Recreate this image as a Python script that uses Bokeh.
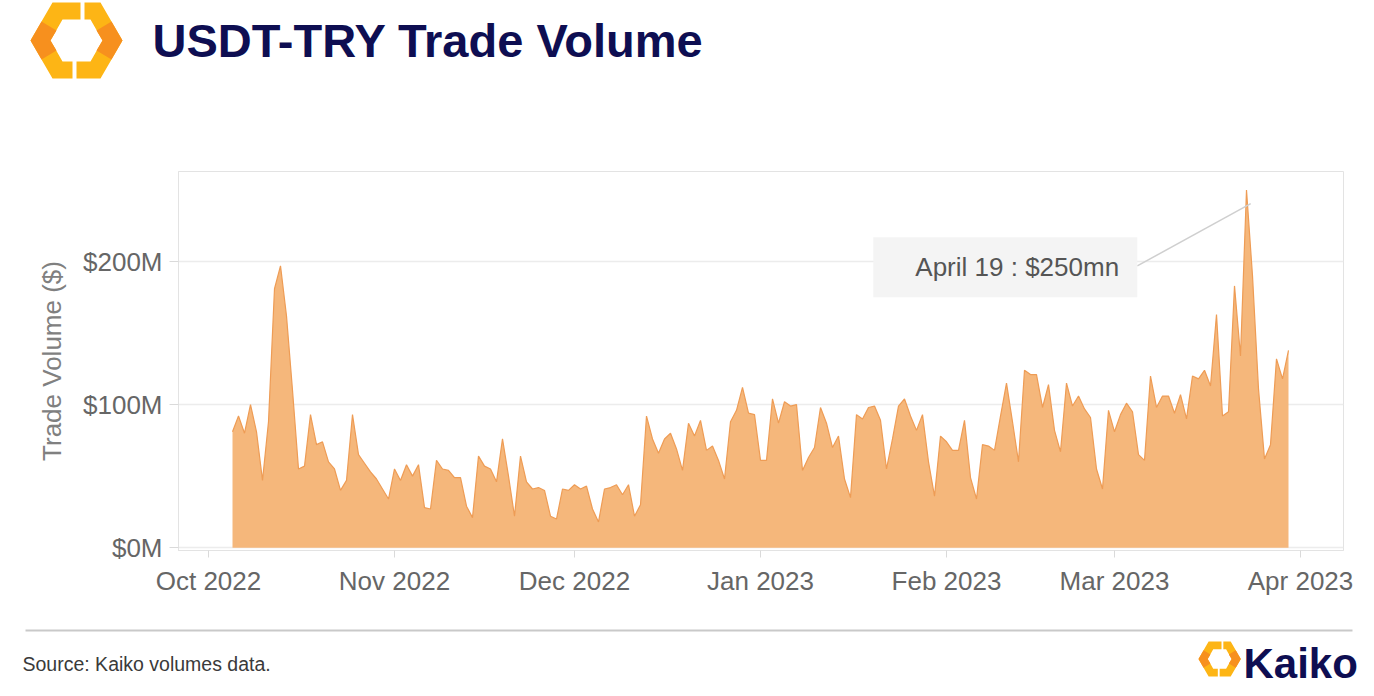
import numpy as np
import pandas as pd
from bokeh.plotting import figure
from bokeh.layouts import column
from bokeh.models import (Range1d, FixedTicker, PrintfTickFormatter, DatetimeTickFormatter,
                          Label, BoxAnnotation, ColumnDataSource)
from bokeh.core.properties import value
from bokeh.embed import file_html
from bokeh.resources import INLINE

# ---------------- data ----------------
title_text = "USDT-TRY Trade Volume"
y_axis_title = "Trade Volume ($)"
source_text = "Source: Kaiko volumes data."
annotation_text = "April 19 : $250mn"
brand = "Kaiko"
start_date = "2022-10-05"
# daily USDT-TRY trade volume, $ millions
volume_musd = [
    81, 92, 80, 100, 81, 47, 88, 181, 197, 162, 110, 55, 57, 93, 72, 74, 60, 55, 40, 47,
    93, 65, 59, 53, 48, 41, 34, 55, 47, 58, 50, 58, 28, 27, 61, 55, 54, 49, 49, 29,
    21, 64, 57, 55, 46, 76, 50, 22, 64, 46, 41, 42, 40, 22, 20, 41, 40, 44, 41, 43,
    27, 18, 41, 42, 44, 37, 44, 22, 30, 92, 76, 66, 76, 80, 69, 54, 87, 78, 89, 68,
    71, 61, 48, 88, 96, 112, 94, 93, 61, 61, 104, 87, 102, 99, 100, 54, 63, 70, 98, 87,
    70, 78, 48, 35, 93, 90, 98, 99, 89, 55, 76, 99, 104, 92, 82, 93, 60, 36, 78, 74,
    68, 68, 89, 49, 34, 72, 71, 68, 92, 115, 88, 60, 124, 121, 121, 98, 114, 82, 67, 115,
    99, 106, 97, 91, 55, 41, 96, 81, 93, 101, 95, 65, 61, 120, 98, 106, 106, 94, 107, 90,
    120, 118, 124, 113, 163, 92, 95, 183, 134, 250, 190, 111, 62, 72, 132, 118, 138,
]
month_ticks = ["2022-10-01", "2022-11-01", "2022-12-01", "2023-01-01",
               "2023-02-01", "2023-03-01", "2023-04-01"]
y_ticks = [0, 100, 200]

dates = pd.date_range(start_date, periods=len(volume_musd), freq="D")
src = ColumnDataSource(dict(date=dates, vol=volume_musd))

EPOCH = np.datetime64("1970-01-01T00:00:00")


def ms(d):
    t = np.datetime64(d) if isinstance(d, str) else d
    return float((np.datetime64(t, "ms") - EPOCH) / np.timedelta64(1, "ms"))


def day_ms(day_offset):
    return ms("2022-10-01") + day_offset * 86400000.0


W = 1374
FONT = "Liberation Sans"
NAVY = "#0E0E52"

# ---------------- header ----------------
HH = 115
header = figure(width=W, height=HH, x_range=Range1d(0, W), y_range=Range1d(HH, 0),
                output_backend="svg", toolbar_location=None,
                x_axis_location=None, y_axis_location=None, min_border=0)
header.outline_line_color = None
header.grid.visible = False
header.frame_align = False


def logo(px, py, s):
    """Kaiko hexagon mark: returns list of (xs, ys, color)."""
    left = [(80, 4), (52, 4), (30, 42), (52, 80), (72, 80), (72, 63), (62, 63), (50, 42), (62, 21), (80, 21)]
    right = [(84, 4), (100, 4), (122, 42), (100, 80), (76, 80), (76, 63), (90, 63), (102, 42), (90, 21), (84, 21)]
    left_mid = [(41, 23), (30, 42), (41, 61), (56, 52), (50, 42), (56, 32)]
    right_mid = [(111, 23), (122, 42), (111, 61), (96, 52), (102, 42), (96, 32)]
    out = []
    for poly, col in ((left, "#FDB515"), (right, "#FDB515"), (left_mid, "#F7901E"), (right_mid, "#F7901E")):
        out.append(([px + (x - 30) * s for x, _ in poly], [py + (y - 4) * s for _, y in poly], col))
    return out


for xs, ys, col in logo(30, 2, 1.0):
    header.patch(xs, ys, fill_color=col, line_color=None)

header.text(x=[152], y=[40], text=[title_text], text_font=value(FONT), text_font_style="bold",
            text_font_size="47px", text_color=NAVY, text_baseline="middle", text_align="left")

# ---------------- main chart ----------------
MH = 490
x_start = day_ms(-5)
x_end = x_start + 1165 / 6.0 * 86400000.0
p = figure(width=W, height=MH, x_axis_type="datetime",
           x_range=Range1d(x_start, x_end), y_range=Range1d(-2, 263),
           output_backend="svg", toolbar_location=None,
           min_border_left=178, min_border_right=31, min_border_top=56, min_border_bottom=55)
p.frame_align = False
p.outline_line_color = "#e3e3e3"
p.outline_line_width = 1

p.varea(x="date", y1=0, y2="vol", source=src, fill_color="#F5B77B", fill_alpha=1.0)
p.line(x="date", y="vol", source=src, line_color="#EE9C55", line_width=1.2)

p.xgrid.visible = False
p.ygrid.grid_line_color = "#ececec"
p.ygrid.grid_line_width = 1.5

p.yaxis.ticker = FixedTicker(ticks=y_ticks)
p.yaxis.formatter = PrintfTickFormatter(format="$%dM")
p.xaxis.ticker = FixedTicker(ticks=[ms(m) for m in month_ticks])
fmt = "%b %Y"
p.xaxis.formatter = DatetimeTickFormatter(days=fmt, months=fmt, years=fmt, hours=fmt,
                                          minutes=fmt, seconds=fmt, milliseconds=fmt)
for ax in (p.xaxis, p.yaxis):
    ax.axis_line_color = "#e3e3e3"
    ax.major_tick_line_color = "#dadada"
    ax.minor_tick_line_color = None
    ax.major_tick_in = 0
    ax.major_label_text_font = FONT
    ax.major_label_text_font_size = "26px"
    ax.major_label_text_color = "#666666"
p.xaxis.major_tick_out = 7
p.yaxis.major_tick_out = 9
p.xaxis.major_label_standoff = 8
p.yaxis.major_label_standoff = 7
p.yaxis.axis_label = y_axis_title
p.yaxis.axis_label_text_font = FONT
p.yaxis.axis_label_text_font_size = "26px"
p.yaxis.axis_label_text_font_style = "normal"
p.yaxis.axis_label_text_color = "#808080"
p.yaxis.axis_label_standoff = 13

# callout for the peak
peak_i = int(np.argmax(volume_musd))
peak_x = ms(dates[peak_i].to_datetime64())
p.add_layout(BoxAnnotation(left=day_ms(110.8), right=day_ms(154.8), bottom=175, top=217,
                           fill_color="#f4f4f4", fill_alpha=1.0, line_color=None))
p.segment(x0=[day_ms(154.8)], y0=[197], x1=[peak_x + 0.7 * 86400000.0],
          y1=[volume_musd[peak_i] * 0.962], line_color="#cfcfcf", line_width=1.5)
p.add_layout(Label(x=day_ms(117.8), y=196, text=annotation_text, text_font=FONT,
                   text_font_size="26px", text_color="#555555", text_baseline="middle"))

# ---------------- footer ----------------
FH = 696 - HH - MH
footer = figure(width=W, height=FH, x_range=Range1d(0, W), y_range=Range1d(FH, 0),
                output_backend="svg", toolbar_location=None,
                x_axis_location=None, y_axis_location=None, min_border=0)
footer.outline_line_color = None
footer.grid.visible = False
footer.frame_align = False
footer.segment(x0=[25], y0=[25], x1=[1352], y1=[25], line_color="#c9c9c9", line_width=2)
footer.text(x=[22], y=[58], text=[source_text], text_font=value(FONT), text_font_size="19.5px",
            text_color="#3a3a3a", text_baseline="middle")
for xs, ys, col in logo(1198, 36, 0.46):
    footer.patch(xs, ys, fill_color=col, line_color=None)
footer.text(x=[1243], y=[58], text=[brand], text_font=value(FONT), text_font_style="bold",
            text_font_size="42px", text_color=NAVY, text_baseline="middle")

layout = column(header, p, footer, spacing=0)
open("out.html", "w").write(file_html(layout, INLINE))
